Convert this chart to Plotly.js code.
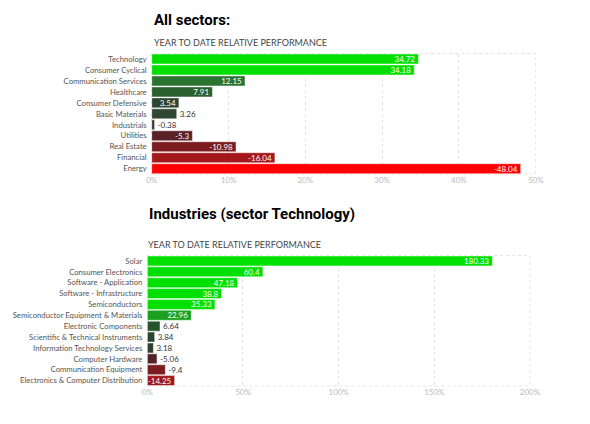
<!DOCTYPE html>
<html>
<head>
<meta charset="utf-8">
<script src="https://cdn.plot.ly/plotly-3.0.1.min.js"></script>
<style>html,body{margin:0;padding:0;background:#fff;}#chart{width:590px;height:424px;}</style>
</head>
<body>
<div id="chart"></div>
<script>
// ---- Data: sectors ----
const sectorNames = ["Technology","Consumer Cyclical","Communication Services","Healthcare","Consumer Defensive","Basic Materials","Industrials","Utilities","Real Estate","Financial","Energy"];
const sectorValues = [34.72, 34.18, 12.15, 7.91, 3.54, 3.26, -0.38, -5.3, -10.98, -16.04, -48.04];
const sectorTicks = [0, 10, 20, 30, 40, 50];

// ---- Data: industries (sector Technology) ----
const industryNames = ["Solar","Consumer Electronics","Software - Application","Software - Infrastructure","Semiconductors","Semiconductor Equipment & Materials","Electronic Components","Scientific & Technical Instruments","Information Technology Services","Computer Hardware","Communication Equipment","Electronics & Computer Distribution"];
const industryValues = [180.33, 60.4, 47.18, 38.8, 35.33, 22.96, 6.64, 3.84, 3.18, -5.06, -9.4, -14.25];
const industryTicks = [0, 50, 100, 150, 200];

// ---- Styles ----
const sectorColors = ["#00e000","#00e000","#2b7430","#2a5f2e","#2d4430","#2f4632","#3b3b3b","#5a2226","#7c1c1f","#a3181c","#ff0000"];
const industryColors = ["#00e000","#00e000","#00e000","#00e000","#00e000","#19a11f","#28532c","#2d4430","#2f4231","#522427","#7c1d20","#9c1a1d"];
const sectorPos = ["inside","inside","inside","inside","inside","outside","outside","inside","inside","inside","inside"];
const industryPos = ["inside","inside","inside","inside","inside","inside","outside","outside","outside","outside","outside","inside"];

const FONT = "Lato, 'Open Sans', sans-serif";
const TITLE_FONT = "Roboto, 'Open Sans', sans-serif";

function barTrace(names, values, colors, pos, xa, ya) {
  return {
    type: "bar", orientation: "h",
    y: names, x: values.map(Math.abs),
    text: values.map(String),
    textposition: pos,
    insidetextanchor: "end",
    insidetextfont: {family: FONT, size: 8, color: "#ffffff"},
    outsidetextfont: {family: FONT, size: 8, color: "#333333"},
    textangle: 0,
    cliponaxis: false,
    constraintext: "none",
    marker: {color: colors, line: {color: "rgba(255,255,255,0.45)", width: 1}},
    xaxis: xa, yaxis: ya,
    hoverinfo: "skip", showlegend: false
  };
}

const xCommon = {
  showgrid: true, gridcolor: "#e3e3e3", griddash: "dot", gridwidth: 1,
  zeroline: false, showline: false, ticks: "",
  tickfont: {family: FONT, size: 8, color: "#bbbbbb"},
  tickmode: "array", fixedrange: true
};
const yCommon = {
  autorange: "reversed", showgrid: false, zeroline: false, showline: false,
  ticks: "", ticklabelstandoff: 4,
  tickfont: {family: FONT, size: 7.7, color: "#555555"}, fixedrange: true
};

const layout = {
  width: 590, height: 424,
  margin: {l: 0, r: 0, t: 0, b: 0},
  paper_bgcolor: "#ffffff", plot_bgcolor: "#ffffff",
  bargap: 0.09,
  xaxis: Object.assign({}, xCommon, {domain: [0.2571, 0.9080], range: [0, 50], tickvals: sectorTicks, ticktext: sectorTicks.map(v => v + "%"), anchor: "y"}),
  yaxis: Object.assign({}, yCommon, {domain: [0.5892, 0.8738], anchor: "x"}),
  xaxis2: Object.assign({}, xCommon, {domain: [0.2497, 0.8983], range: [0, 200], tickvals: industryTicks, ticktext: industryTicks.map(v => v + "%"), anchor: "y2"}),
  yaxis2: Object.assign({}, yCommon, {domain: [0.0896, 0.3974], anchor: "x2"}),
  shapes: [
    {type: "rect", xref: "x domain", yref: "y domain", x0: 0, x1: 1, y0: 0, y1: 1, line: {color: "#e3e3e3", width: 1, dash: "dot"}, layer: "below"},
    {type: "rect", xref: "x2 domain", yref: "y2 domain", x0: 0, x1: 1, y0: 0, y1: 1, line: {color: "#e3e3e3", width: 1, dash: "dot"}, layer: "below"}
  ],
  annotations: [
    {text: "<b>All sectors:</b>", xref: "paper", yref: "paper", x: 152/590, y: 1 - 19.5/424, xanchor: "left", yanchor: "middle", showarrow: false, font: {family: TITLE_FONT, size: 15, color: "#000"}},
    {text: "YEAR TO DATE RELATIVE PERFORMANCE", xref: "paper", yref: "paper", x: 152/590, y: 1 - 42.5/424, xanchor: "left", yanchor: "middle", showarrow: false, font: {family: FONT, size: 9, color: "#444"}},
    {text: "<b>Industries (sector Technology)</b>", xref: "paper", yref: "paper", x: 147/590, y: 1 - 214/424, xanchor: "left", yanchor: "middle", showarrow: false, font: {family: TITLE_FONT, size: 15, color: "#000"}},
    {text: "YEAR TO DATE RELATIVE PERFORMANCE", xref: "paper", yref: "paper", x: 146/590, y: 1 - 244.2/424, xanchor: "left", yanchor: "middle", showarrow: false, font: {family: FONT, size: 9, color: "#444"}}
  ]
};

Plotly.newPlot("chart", [
  barTrace(sectorNames, sectorValues, sectorColors, sectorPos, "x", "y"),
  barTrace(industryNames, industryValues, industryColors, industryPos, "x2", "y2")
], layout, {displayModeBar: false, staticPlot: true});
</script>
</body>
</html>
